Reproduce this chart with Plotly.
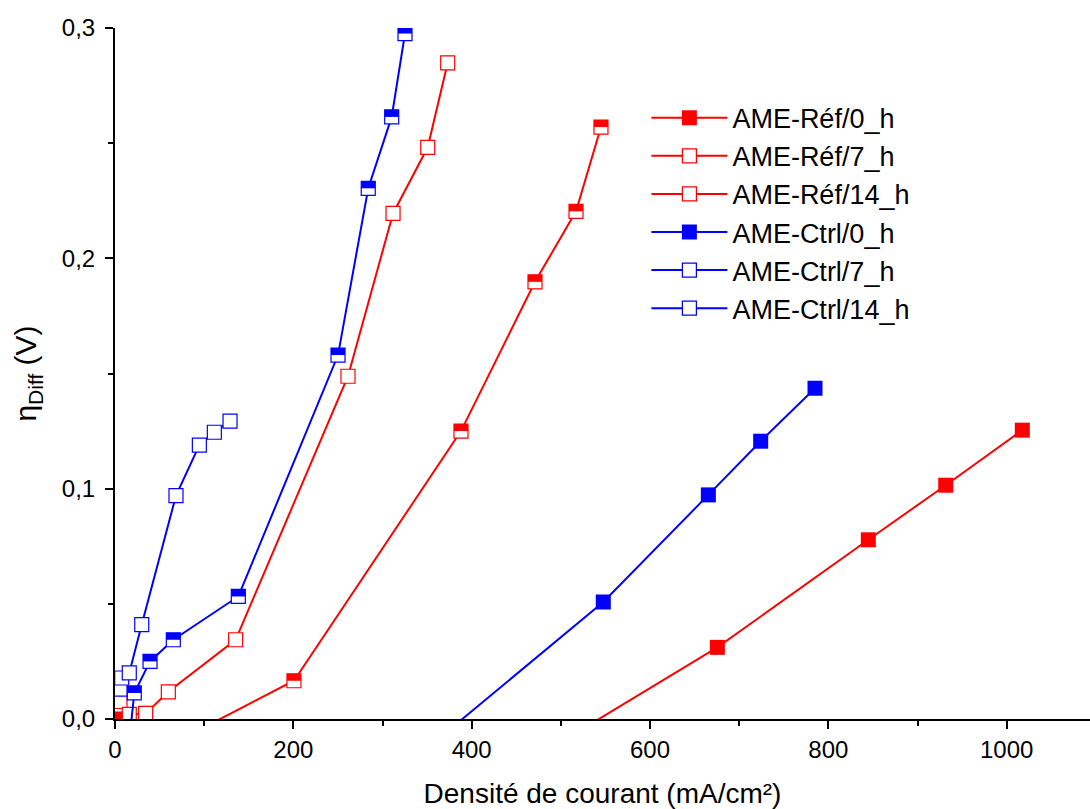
import plotly.graph_objects as go

# ---- data (current density mA/cm², eta_Diff V) ----
ref0_x = [500, 675.5, 844.8, 931.6, 1017.5]
ref0_y = [-0.010, 0.0311, 0.0778, 0.1015, 0.1254]

ref7_x = [4, 80, 200.7, 388, 471, 517, 545]
ref7_y = [0.0, -0.0076, 0.0166, 0.125, 0.1898, 0.2204, 0.257]

ref14_x = [5.6, 16, 34.4, 59.8, 135.3, 261.3, 311.8, 350.7, 373.1]
ref14_y = [0.0076, 0.002, 0.0024, 0.0118, 0.0344, 0.1488, 0.2195, 0.2482, 0.2849]

ctrl0_x = [350, 547.6, 665.4, 724.1, 785.0]
ctrl0_y = [-0.0127, 0.0508, 0.0973, 0.1206, 0.1436]

ctrl7_x = [17, 21.6, 39.3, 65.4, 138.3, 250.1, 284, 310.3, 325.2]
ctrl7_y = [-0.006, 0.0113, 0.025, 0.0344, 0.0532, 0.158, 0.2304, 0.2614, 0.2976]

ctrl14_x = [5.6, 7.5, 16, 30, 68.4, 94.6, 111.4, 129]
ctrl14_y = [0.013, 0.0178, 0.02, 0.041, 0.097, 0.1189, 0.1245, 0.1293]

names = ["AME-Réf/0_h", "AME-Réf/7_h", "AME-Réf/14_h",
         "AME-Ctrl/0_h", "AME-Ctrl/7_h", "AME-Ctrl/14_h"]

x_ticks = [0, 200, 400, 600, 800, 1000]
y_ticks = [0.0, 0.1, 0.2, 0.3]

RED = "#ff0000"
BLUE = "#0000ff"
FONT = "Liberation Sans, Arial, sans-serif"
MS = 14

series = [
    (ref0_x, ref0_y, names[0], RED, "filled"),
    (ref7_x, ref7_y, names[1], RED, "half"),
    (ref14_x, ref14_y, names[2], RED, "open"),
    (ctrl0_x, ctrl0_y, names[3], BLUE, "filled"),
    (ctrl7_x, ctrl7_y, names[4], BLUE, "half"),
    (ctrl14_x, ctrl14_y, names[5], BLUE, "open"),
]

fig = go.Figure()
for xs, ys, name, col, style in series:
    if style == "filled":
        marker = dict(symbol="square", size=MS + 1, color=col, line=dict(width=0))
    else:
        marker = dict(symbol="square", size=MS, color="white",
                      line=dict(width=1.2, color=col))
    fig.add_trace(go.Scatter(
        x=xs, y=ys, name=name, mode="lines+markers",
        line=dict(color=col, width=2),
        marker=marker,
    ))
    if style == "half":
        # filled top half of the square
        fig.add_trace(go.Scatter(
            x=xs, y=ys, name=name, mode="markers", showlegend=False,
            hoverinfo="skip",
            marker=dict(symbol="line-ew", size=MS / 1.4, color=col, angle=180,
                        standoff=MS / 4,
                        line=dict(width=MS / 2, color=col)),
        ))

axis_common = dict(
    showline=True, linecolor="black", linewidth=2,
    ticks="outside", ticklen=8, tickwidth=2, tickcolor="black",
    showgrid=False, zeroline=False, mirror=False,
    tickfont=dict(family=FONT, size=24, color="black"),
)

fig.update_layout(
    width=1090, height=809,
    margin=dict(l=115, r=0, t=28, b=90),
    paper_bgcolor="white", plot_bgcolor="white",
    separators=",.",
    font=dict(family=FONT, color="black"),
    showlegend=True,
    legend=dict(
        x=0.545, y=0.905, xanchor="left", yanchor="top",
        bgcolor="rgba(0,0,0,0)", borderwidth=0,
        font=dict(family=FONT, size=27, color="black"),
        itemwidth=76, tracegroupgap=0,
    ),
    xaxis=dict(
        range=[0, 1093.4], tickvals=x_ticks,
        minor=dict(ticks="outside", ticklen=5, tickwidth=2, tickcolor="black", dtick=100),
        title=dict(text="Densité de courant (mA/cm²)",
                   font=dict(family=FONT, size=28, color="black"), standoff=26),
        **axis_common,
    ),
    yaxis=dict(
        range=[0, 0.3], tickvals=y_ticks, tickformat=".1f",
        ticklabelstandoff=5,
        minor=dict(ticks="outside", ticklen=5, tickwidth=2, tickcolor="black", dtick=0.05),
        title=dict(text="η<sub>Diff</sub> (V)",
                   font=dict(family=FONT, size=30, color="black"), standoff=16),
        **axis_common,
    ),
)

fig.write_html("out.html")
